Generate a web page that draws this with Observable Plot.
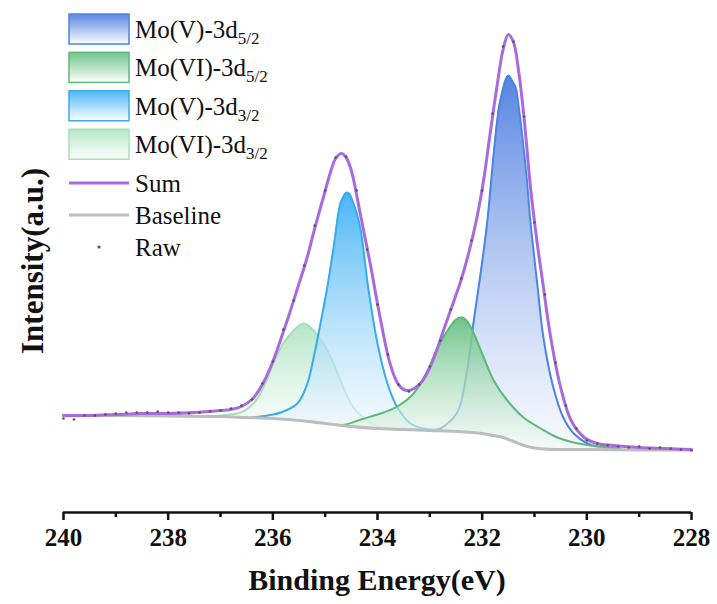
<!DOCTYPE html>
<html><head><meta charset="utf-8">
<script src="https://cdn.jsdelivr.net/npm/d3@7"></script>
<script src="https://cdn.jsdelivr.net/npm/@observablehq/plot@0.6"></script>
<style>html,body{margin:0;padding:0;background:#fff;} svg{display:block}
svg text{font-family:'Liberation Serif', serif !important;}
</style>
</head><body><div id="chart"></div>
<script>
// ---- data (binding energy in eV, intensity in a.u.) ----
const baseE = [240, 239, 238, 237, 236.5, 236, 235.5, 235, 234.5, 234, 233.5, 233, 232.5, 232, 231.8, 231.6, 231.4, 231.2, 231, 230.8, 230.5, 230, 229, 228];
const baseI = [97, 97, 96.5, 96, 95, 94, 92, 89, 86, 84, 83, 82, 81, 79, 77, 75, 71, 67, 64.5, 63.5, 63, 63, 62.5, 62.5];

const sumE = [240, 239.5, 239, 238.5, 238, 237.5, 237, 236.8, 236.6, 236.4, 236.2, 236.0, 235.85, 235.7, 235.53, 235.35, 235.2, 235.03, 234.9, 234.8, 234.69, 234.6, 234.5, 234.33, 234.14, 233.95, 233.76, 233.6, 233.45, 233.3, 233.15, 233.0, 232.85, 232.7, 232.55, 232.4, 232.25, 232.1, 231.97, 231.85, 231.72, 231.6, 231.5, 231.4, 231.3, 231.2, 231.08, 230.95, 230.85, 230.7, 230.5, 230.3, 230.05, 229.8, 229.5, 229, 228.5, 228];
const sumI = [97, 97, 98, 99, 99, 100, 102, 103, 106, 113, 128, 151, 173, 196, 224, 254, 284, 316, 340, 354, 359, 355, 342, 299, 249, 195, 149, 128, 122, 124, 131, 145, 165, 188, 210, 233, 261, 295, 333, 378, 425, 463, 478, 470, 440, 395, 327, 270, 233, 178, 125, 92, 75, 69, 67, 65, 64, 63];

const v52E = [233.3, 233.1, 232.99, 232.8, 232.66, 232.5, 232.41, 232.28, 232.16, 232.03, 231.9, 231.78, 231.68, 231.61, 231.55, 231.5, 231.44, 231.36, 231.3, 231.23, 231.15, 231.08, 230.94, 230.83, 230.64, 230.45, 230.25, 229.99, 229.7, 229.4];
const v52I = [83, 82.5, 82, 84, 89, 98, 109, 145, 192, 239, 292, 359, 405, 422, 433, 437, 433, 425, 405, 375, 335, 292, 225, 175, 125, 95, 79, 69, 65, 63.5];

const vi52E = [234.8, 234.6, 234.32, 233.94, 233.62, 233.31, 233.04, 232.85, 232.66, 232.5, 232.38, 232.27, 232.16, 231.97, 231.78, 231.52, 231.21, 230.88, 230.56, 230.25, 229.93, 229.36];
const vi52I = [87, 88, 93, 99, 106, 119, 142, 165, 182, 193, 195, 190, 179, 155, 132, 112, 95, 84, 75, 70, 67, 64];

const v32E = [236.4, 236.1, 235.85, 235.53, 235.34, 235.22, 235.09, 234.96, 234.84, 234.71, 234.64, 234.59, 234.53, 234.48, 234.4, 234.32, 234.17, 234.0, 233.81, 233.62, 233.37, 233.12, 232.9, 232.7];
const v32I = [95, 97, 100, 109, 129, 155, 189, 225, 265, 309, 317, 320, 318, 312, 300, 282, 222, 169, 129, 105, 89, 84, 83, 81];

const vi32E = [237.2, 237.0, 236.62, 236.37, 236.18, 235.99, 235.8, 235.6, 235.5, 235.41, 235.32, 235.22, 235.03, 234.84, 234.65, 234.46, 234.19, 233.94, 233.7];
const vi32I = [96, 97, 100, 109, 125, 149, 169, 182, 187, 189, 187, 182, 169, 149, 125, 105, 92, 85, 84];

const rawE = [240, 239.8, 239.6, 239.4, 239.2, 239.0, 238.8, 238.6, 238.4, 238.2, 238.0, 237.8, 237.6, 237.4, 237.2, 237.0, 236.8, 236.6, 236.4, 236.2, 236.0, 235.8, 235.6, 235.4, 235.2, 235.0, 234.8, 234.6, 234.4, 234.2, 234.0, 233.8, 233.6, 233.4, 233.2, 233.0, 232.8, 232.6, 232.4, 232.2, 232.0, 231.8, 231.6, 231.4, 231.2, 231.0, 230.8, 230.6, 230.4, 230.2, 230.0, 229.8, 229.6, 229.4, 229.2, 229.0, 228.8, 228.6, 228.4, 228.2, 228.0];
const rawI = [94, 93, 97, 97, 98, 99, 100, 100, 100, 101, 100, 100, 99, 100, 101, 102, 104, 107, 113, 129, 151, 183, 212, 247, 287, 322, 355, 356, 322, 263, 208, 158, 128, 121, 128, 146, 172, 203, 234, 272, 322, 399, 466, 471, 396, 290, 218, 150, 107, 84, 72, 69, 67, 66, 65, 66, 64, 65, 64, 63, 62];

const xTicks = [240, 238, 236, 234, 232, 230, 228];
const xMinorTicks = [239, 237, 235, 233, 231, 229];

const seriesNames = ["Mo(V)-3d", "Mo(VI)-3d", "Mo(V)-3d", "Mo(VI)-3d"];
const seriesSubs = ["5/2", "5/2", "3/2", "3/2"];
const xLabel = "Binding Energy(eV)";
const yLabel = "Intensity(a.u.)";

// ---- build ----
const FONT = "'Liberation Serif', serif";
const zip = (E, I) => E.map((e, i) => ({E: e, I: I[i]}));
const comps = [
  {id: "vi32", E: vi32E, I: vi32I, line: "#a6e0bb", top: "#aee4c2", bottom: "#f3fbf6"},
  {id: "v32",  E: v32E,  I: v32I,  line: "#37abf0", top: "#3fb1f6", bottom: "#eef7fe"},
  {id: "v52",  E: v52E,  I: v52I,  line: "#4a84e4", top: "#4d7de0", bottom: "#f0f4fd"},
  {id: "vi52", E: vi52E, I: vi52I, line: "#5cb978", top: "#66c083", bottom: "#f2faf4"}
];
const curve = "catmull-rom";
const marks = [];
for (const c of comps) {
  const d = zip(c.E, c.I);
  marks.push(Plot.areaY(d, {x: "E", y1: 0, y2: "I", fill: `url(#grad-${c.id})`, curve}));
  marks.push(Plot.lineY(d, {x: "E", y: "I", stroke: c.line, strokeWidth: 2, curve}));
}
marks.push(Plot.areaY(zip(baseE, baseI), {x: "E", y1: 0, y2: "I", fill: "white", curve}));
marks.push(Plot.lineY(zip(baseE, baseI), {x: "E", y: "I", stroke: "#bdbdbd", strokeWidth: 3, curve}));
marks.push(Plot.lineY(zip(sumE, sumI), {x: "E", y: "I", stroke: "#a96ae0", strokeWidth: 3, curve}));
marks.push(Plot.dot(zip(rawE, rawI), {x: "E", y: "I", r: 1.3, fill: "#555", stroke: null}));
marks.push(Plot.ruleY([0], {stroke: "#111", strokeWidth: 2.7}));
marks.push(Plot.axisX({ticks: xMinorTicks, tickSize: 5, strokeWidth: 2.5, text: null, label: null, anchor: "bottom"}));
marks.push(Plot.axisX({ticks: xTicks, tickSize: 8, tickPadding: 8, strokeWidth: 2.5, label: null, anchor: "bottom",
  tickFormat: d => String(d), fontSize: 25, fontWeight: "bold", fontFamily: FONT}));

const plot = Plot.plot({
  width: 717, height: 604,
  marginLeft: 63, marginRight: 26, marginTop: 0, marginBottom: 92,
  x: {domain: [240, 228], axis: null},
  y: {domain: [0, 512], axis: null},
  style: {fontFamily: FONT, color: "#111", background: "white"},
  marks
});
document.getElementById("chart").appendChild(plot);

const svg = d3.select(plot);
const ys = plot.scale("y");
const defs = svg.insert("defs", ":first-child");
for (const c of comps) {
  const g = defs.append("linearGradient").attr("id", `grad-${c.id}`)
    .attr("gradientUnits", "userSpaceOnUse")
    .attr("x1", 0).attr("x2", 0)
    .attr("y1", ys.apply(d3.max(c.I))).attr("y2", ys.apply(d3.min(c.I)));
  g.append("stop").attr("offset", 0).attr("stop-color", c.top).attr("stop-opacity", 0.95);
  g.append("stop").attr("offset", 1).attr("stop-color", c.bottom).attr("stop-opacity", 0.55);
  const s = defs.append("linearGradient").attr("id", `sw-${c.id}`)
    .attr("x1", 0).attr("x2", 0).attr("y1", 0).attr("y2", 1);
  s.append("stop").attr("offset", 0).attr("stop-color", c.top).attr("stop-opacity", 0.9);
  s.append("stop").attr("offset", 1).attr("stop-color", "#ffffff");
}
svg.selectAll('g[aria-label="x-axis tick label"], g[aria-label="x-axis tick label"] text')
  .attr("font-weight", "bold").attr("font-size", 25).attr("font-family", FONT)
  .style("font-family", FONT).style("font-weight", "bold");

// axis titles
svg.append("text").attr("x", 377).attr("y", 590).attr("text-anchor", "middle")
  .style("font-family", FONT).style("font-weight", "bold").attr("font-size", 30).attr("fill", "#111").text(xLabel);
svg.append("text").attr("transform", "translate(43,261) rotate(-90)").attr("text-anchor", "middle")
  .style("font-family", FONT).style("font-weight", "bold").attr("font-size", 31).attr("fill", "#111").text(yLabel);

// legend
const legendOrder = ["v52", "vi52", "v32", "vi32"];
const lg = svg.append("g").attr("font-size", 25).attr("fill", "#111")
  .style("font-family", FONT).attr("text-anchor", "start");
legendOrder.forEach((id, i) => {
  const c = comps.find(k => k.id === id);
  const y0 = 14 + i * 38.4;
  lg.append("rect").attr("x", 69).attr("y", y0).attr("width", 60).attr("height", 30)
    .attr("fill", `url(#sw-${id})`).attr("stroke", c.line).attr("stroke-width", 1.5);
  const t = lg.append("text").attr("x", 135).attr("y", y0 + 24);
  t.append("tspan").text(seriesNames[i]);
  t.append("tspan").attr("font-size", 17).attr("dy", 6).text(seriesSubs[i]);
});
const lineItems = [{label: "Sum", color: "#a96ae0", y: 183}, {label: "Baseline", color: "#bdbdbd", y: 215}];
for (const it of lineItems) {
  lg.append("line").attr("x1", 69).attr("x2", 129).attr("y1", it.y).attr("y2", it.y)
    .attr("stroke", it.color).attr("stroke-width", 3);
  lg.append("text").attr("x", 135).attr("y", it.y + 9).text(it.label);
}
lg.append("circle").attr("cx", 99).attr("cy", 247).attr("r", 1.6).attr("fill", "#555");
lg.append("text").attr("x", 135).attr("y", 256).text("Raw");
</script>
</body></html>
